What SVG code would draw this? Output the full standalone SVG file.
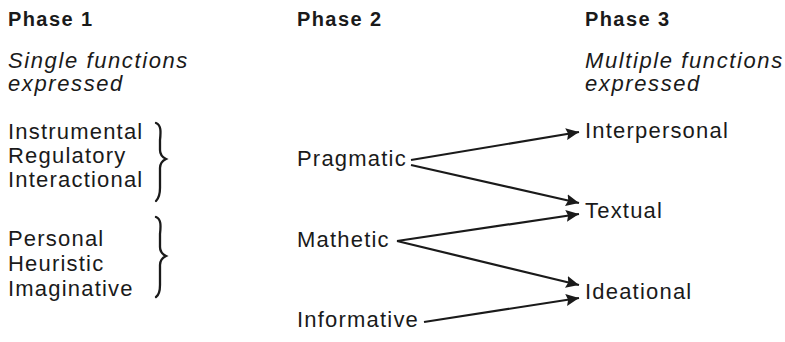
<svg xmlns="http://www.w3.org/2000/svg" width="785" height="342" viewBox="0 0 785 342">
<style>
text { font-family: "Liberation Sans", Arial, Helvetica, sans-serif; fill: #1a1a1a; }
.h { font-size: 20px; font-weight: bold; letter-spacing: 1.4px; }
.i { font-size: 22px; font-style: italic; letter-spacing: 1.6px; }
.t { font-size: 22px; letter-spacing: 1.2px; }
.c { fill: none; stroke: #1a1a1a; stroke-width: 2.2; }
.b { fill: none; stroke: #1a1a1a; stroke-width: 2.3; stroke-linecap: round; }
</style>
<defs>
<marker id="ah" markerUnits="userSpaceOnUse" markerWidth="14" markerHeight="12" refX="13" refY="6" orient="auto">
<path d="M0,0 L13,6 L0,12 L2,6 Z" fill="#1a1a1a"/>
</marker>
</defs>
<rect width="785" height="342" fill="#ffffff"/>
<g id="phase1">
<text class="h" x="8" y="26">Phase 1</text>
<text class="i" x="8" y="68">Single functions</text>
<text class="i" x="8" y="91">expressed</text>
</g>
<g id="phase2">
<text class="h" x="297" y="26">Phase 2</text>
</g>
<g id="phase3">
<text class="h" x="585" y="26">Phase 3</text>
<text class="i" x="585" y="68">Multiple functions</text>
<text class="i" x="585" y="91">expressed</text>
</g>
<g id="group1">
<text class="t" x="8" y="139">Instrumental</text>
<text class="t" x="8" y="163">Regulatory</text>
<text class="t" x="8" y="187">Interactional</text>
<path class="b" d="M156,123 C161,125 161,131 160,140 L160,150 C160,155 162,157 166,159 C162,161 160,163 160,168 L160,188 C160,195 159,198 156,201"/>
</g>
<g id="group2">
<text class="t" x="8" y="246">Personal</text>
<text class="t" x="8" y="271">Heuristic</text>
<text class="t" x="8" y="296">Imaginative</text>
<path class="b" d="M156,217 C161,219 161,225 160,234 L160,247 C160,252 162,254 166,256 C162,258 160,260 160,265 L160,285 C160,292 159,295 156,297"/>
</g>
<g id="pragmatic"><text class="t" x="297" y="166">Pragmatic</text></g>
<g id="mathetic"><text class="t" x="297" y="247">Mathetic</text></g>
<g id="informative"><text class="t" x="297" y="327">Informative</text></g>
<g id="interpersonal"><text class="t" x="585" y="138">Interpersonal</text></g>
<g id="textual"><text class="t" x="585" y="218">Textual</text></g>
<g id="ideational"><text class="t" x="585" y="299">Ideational</text></g>
<g id="connectors">
<path class="c" marker-end="url(#ah)" d="M411,160 L579,132"/>
<path class="c" marker-end="url(#ah)" d="M411,165 L579,203"/>
<path class="c" marker-end="url(#ah)" d="M397,241 L579,214"/>
<path class="c" marker-end="url(#ah)" d="M397,241 L579,285"/>
<path class="c" marker-end="url(#ah)" d="M424,322 L579,298"/>
</g>
</svg>
